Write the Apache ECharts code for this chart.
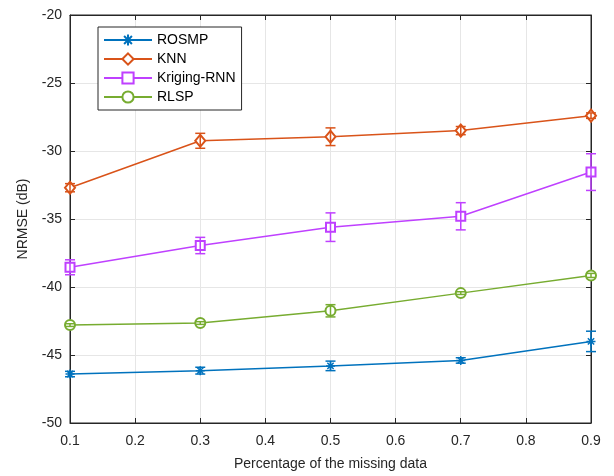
<!DOCTYPE html>
<html>
<head>
<meta charset="utf-8">
<script src="https://cdn.jsdelivr.net/npm/echarts@6/dist/echarts.min.js"></script>
<style>
  html, body { margin: 0; padding: 0; background: #fff; }
  #chart { width: 614px; height: 476px; }
</style>
</head>
<body>
<div id="chart"></div>
<script>
// missing-data ratio on the x axis
const missing = [0.1, 0.3, 0.5, 0.7, 0.9];

const rosmp = [-46.4, -46.15, -45.8, -45.4, -44.0];
const rosmpErr = [0.2, 0.25, 0.35, 0.2, 0.75];
const knn = [-32.7, -29.25, -28.95, -28.5, -27.4];
const knnErr = [0.3, 0.55, 0.65, 0.3, 0.2];
const kriging = [-38.55, -36.95, -35.6, -34.8, -31.55];
const krigingErr = [0.55, 0.6, 1.05, 1.0, 1.35];
const rlsp = [-42.8, -42.65, -41.75, -40.45, -39.15];
const rlspErr = [0.1, 0.1, 0.45, 0.1, 0.15];

const txt = '#262626';
const font = 'Liberation Sans, Arial, Helvetica, sans-serif';
const star = 'path://M0,-10L0,10M-10,0L10,0M-7,-7L7,7M-7,7L7,-7';

function lineSeries(name, vals, color, symbol, size) {
  return {
    name: name,
    type: 'line',
    data: missing.map((x, i) => [x, vals[i]]),
    symbol: symbol,
    symbolSize: size,
    showAllSymbol: true,
    lineStyle: { color: color, width: 1.5 },
    itemStyle: { color: color, borderColor: color, borderWidth: 1.5 },
    z: 3
  };
}

// error bars drawn on top so the hollow markers look see-through
function errSeries(name, vals, errs, color) {
  return {
    name: name,
    type: 'custom',
    data: missing.map((x, i) => [x, vals[i] - errs[i], vals[i] + errs[i]]),
    encode: { x: 0, y: [1, 2] },
    z: 4,
    renderItem: function (params, api) {
      const lo = api.coord([api.value(0), api.value(1)]);
      const hi = api.coord([api.value(0), api.value(2)]);
      const w = 5;
      const st = { stroke: color, lineWidth: 1.5 };
      return {
        type: 'group',
        children: [
          { type: 'line', shape: { x1: lo[0], y1: lo[1], x2: hi[0], y2: hi[1] }, style: st },
          { type: 'line', shape: { x1: lo[0] - w, y1: lo[1], x2: lo[0] + w, y2: lo[1] }, style: st },
          { type: 'line', shape: { x1: hi[0] - w, y1: hi[1], x2: hi[0] + w, y2: hi[1] }, style: st }
        ]
      };
    }
  };
}

const chart = echarts.init(document.getElementById('chart'));

const axisCommon = {
  axisLine: { lineStyle: { color: txt, width: 1 } },
  axisTick: { inside: true, length: 5, lineStyle: { color: txt } },
  axisLabel: { color: txt, fontSize: 14, fontFamily: font }
};

chart.setOption({
  animation: false,
  grid: { left: 70, right: 23, top: 15, bottom: 53, show: true, borderColor: txt, borderWidth: 1 },
  legend: {
    data: ['ROSMP', 'KNN', 'Kriging-RNN', 'RLSP'],
    orient: 'vertical',
    left: 98,
    top: 27,
    padding: [6, 6, 6, 5],
    itemWidth: 48,
    itemHeight: 14,
    itemGap: 5,
    backgroundColor: '#fff',
    borderColor: txt,
    borderWidth: 1,
    textStyle: { color: '#000', fontSize: 14, fontFamily: font }
  },
  xAxis: [{
    type: 'value',
    min: 0.1, max: 0.9, interval: 0.1,
    name: 'Percentage of the missing data',
    nameLocation: 'middle',
    nameGap: 34,
    nameTextStyle: { color: txt, fontSize: 14, fontFamily: font },
    ...axisCommon,
    axisLabel: { ...axisCommon.axisLabel, margin: 11, formatter: v => v.toFixed(1) },
    splitLine: { show: true, lineStyle: { color: '#e6e6e6', width: 1 } }
  }, {
    type: 'value', position: 'top',
    min: 0.1, max: 0.9, interval: 0.1,
    ...axisCommon,
    axisLabel: { show: false },
    splitLine: { show: false }
  }],
  yAxis: [{
    type: 'value',
    min: -50, max: -20, interval: 5,
    name: 'NRMSE (dB)',
    nameLocation: 'middle',
    nameGap: 40,
    nameTextStyle: { color: txt, fontSize: 14, fontFamily: font },
    ...axisCommon,
    axisLabel: { ...axisCommon.axisLabel, margin: 8 },
    splitLine: { show: true, lineStyle: { color: '#e6e6e6', width: 1 } }
  }, {
    type: 'value', position: 'right',
    min: -50, max: -20, interval: 5,
    ...axisCommon,
    axisLabel: { show: false },
    splitLine: { show: false }
  }],
  series: [
    lineSeries('ROSMP', rosmp, '#0072BD', star, 9),
    lineSeries('KNN', knn, '#D95319', 'emptyDiamond', [10, 12]),
    lineSeries('Kriging-RNN', kriging, '#BF40FF', 'emptyRect', 9),
    lineSeries('RLSP', rlsp, '#77AC30', 'emptyCircle', 10),
    errSeries('ROSMP', rosmp, rosmpErr, '#0072BD'),
    errSeries('KNN', knn, knnErr, '#D95319'),
    errSeries('Kriging-RNN', kriging, krigingErr, '#BF40FF'),
    errSeries('RLSP', rlsp, rlspErr, '#77AC30')
  ]
});
</script>
</body>
</html>
